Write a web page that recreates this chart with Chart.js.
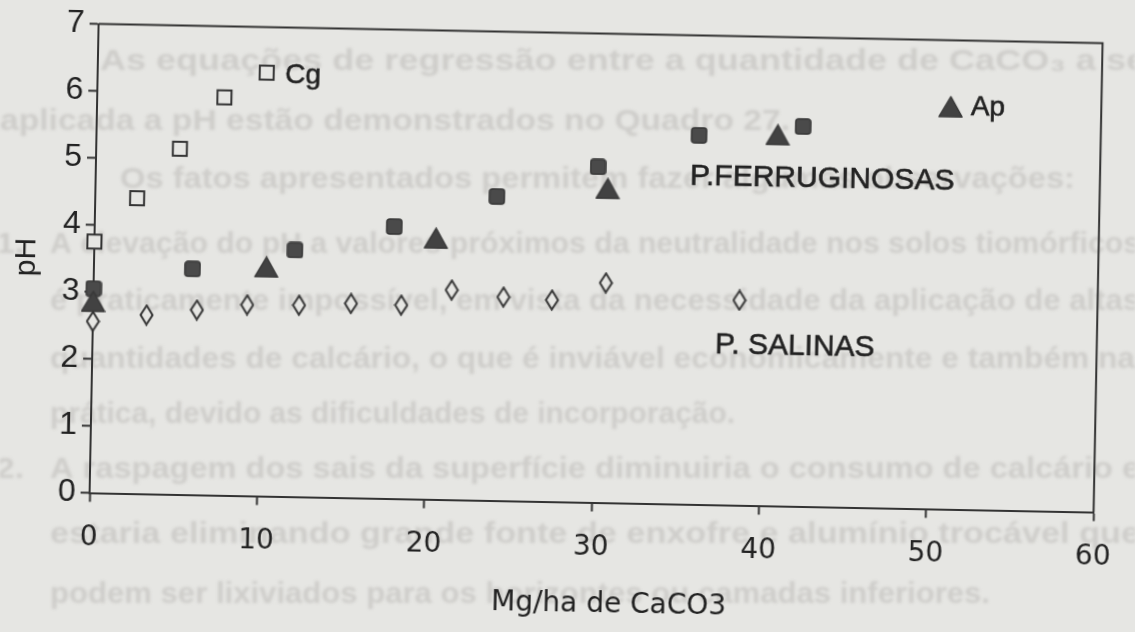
<!DOCTYPE html>
<html>
<head>
<meta charset="utf-8">
<script src="https://cdn.jsdelivr.net/npm/chart.js@4"></script>
<style>
  html, body { margin: 0; padding: 0; background: #e6e6e3; overflow: hidden; }
  #wrap { position: relative; width: 1135px; height: 632px; }
  #page { position: absolute; left: 0; top: 0; filter: blur(1.4px); }
  #ph-chart { position: absolute; left: 0; top: 0; transform: rotate(1.1deg); transform-origin: 596.5px 268px; }
</style>
</head>
<body>
<div id="wrap">
  <canvas id="page" width="1135" height="632"></canvas>
  <canvas id="ph-chart" width="1135" height="632"></canvas>
</div>
<script>
// pH against lime rate, four soil groups
const cgX  = [0, 2.5, 5, 7.6, 10.1];
const cgPH = [3.75, 4.41, 5.16, 5.94, 6.32];

const ferX  = [0, 5.9, 12, 17.9, 24, 30, 36, 42.2];
const ferPH = [3.05, 3.37, 3.68, 4.06, 4.54, 5.01, 5.51, 5.67];

const apX  = [0, 10.3, 20.4, 30.6, 40.7, 51];
const apPH = [2.86, 3.42, 3.9, 4.69, 5.54, 6.01];

const salX  = [0, 3.2, 6.2, 9.2, 12.3, 15.4, 18.4, 21.4, 24.5, 27.4, 30.6, 38.6];
const salPH = [2.56, 2.67, 2.76, 2.85, 2.86, 2.9, 2.89, 3.13, 3.04, 3.01, 3.28, 3.06];

const xTicks = [0, 10, 20, 30, 40, 50, 60];
const yTicks = [0, 1, 2, 3, 4, 5, 6, 7];

const notes = [
  { text: "Cg", x: 11.2, y: 6.28, size: 28 },
  { text: "Ap", x: 52.2, y: 6.01, size: 28 },
  { text: "P.FERRUGINOSAS", x: 35.5, y: 4.89, size: 30 },
  { text: "P. SALINAS", x: 37.2, y: 2.38, size: 30 }
];

// text of the facing page showing through the paper
const pageLines = [
  ["As equações de regressão entre a quantidade de CaCO₃ a ser", 100, 62, 1060],
  ["aplicada a pH estão demonstrados no Quadro 27.", 0, 122, 790],
  ["Os fatos apresentados permitem fazer algumas observações:", 120, 180, 955],
  ["1.", -4, 245, 28],
  ["A elevação do pH a valores próximos da neutralidade nos solos tiomórficos", 50, 245, 1090],
  ["é praticamente impossível, em vista da necessidade da aplicação de altas", 50, 302, 1090],
  ["quantidades de calcário, o que é inviável economicamente e também na", 50, 360, 1085],
  ["prática, devido as dificuldades de incorporação.", 50, 415, 685],
  ["2.", -4, 470, 28],
  ["A raspagem dos sais da superfície diminuiria o consumo de calcário e", 50, 470, 1090],
  ["estaria eliminando grande fonte de enxofre e alumínio trocável que", 50, 535, 1090],
  ["podem ser lixiviados para os horizontes ou camadas inferiores.", 50, 595, 940]
];

const paper = "#e6e6e3";
const ink = "#222222";

const pg = document.getElementById("page").getContext("2d");
pg.fillStyle = "#cecdca";
pg.font = '600 30px "Liberation Sans", Arial, sans-serif';
pg.textBaseline = "middle";
pageLines.forEach(([t, x, y, w]) => {
  const m = pg.measureText(t).width;
  pg.save();
  pg.translate(x, y);
  pg.scale(w / m, 1);
  pg.fillText(t, 0, 0);
  pg.restore();
});

function marker(w, h, draw) {
  const c = document.createElement("canvas");
  c.width = w; c.height = h;
  draw(c.getContext("2d"));
  return c;
}

const openSquare = marker(18, 18, g => {
  g.fillStyle = paper; g.fillRect(2, 2, 14, 14);
  g.lineWidth = 2; g.strokeStyle = "#333"; g.strokeRect(2, 2, 14, 14);
});
const solidSquare = marker(17, 17, g => {
  g.beginPath(); g.roundRect(1, 1, 15, 15, 3);
  g.fillStyle = "#4a4a4a"; g.fill();
  g.lineWidth = 1.5; g.strokeStyle = "#353535"; g.stroke();
});
const solidTriangle = marker(25, 22, g => {
  g.beginPath(); g.moveTo(12.5, 1); g.lineTo(24, 21); g.lineTo(1, 21); g.closePath();
  g.fillStyle = "#424242"; g.fill();
  g.lineJoin = "round"; g.lineWidth = 1.5; g.strokeStyle = "#383838"; g.stroke();
});
const openDiamond = marker(15, 22, g => {
  g.beginPath(); g.moveTo(7.5, 1.5); g.lineTo(13.5, 11); g.lineTo(7.5, 20.5); g.lineTo(1.5, 11); g.closePath();
  g.fillStyle = paper; g.fill();
  g.lineWidth = 2; g.strokeStyle = "#333"; g.stroke();
});

const pts = (xs, ys) => xs.map((x, i) => ({ x: x, y: ys[i] }));

const notesPlugin = {
  id: "notes",
  afterDatasetsDraw(chart) {
    const { ctx, scales: { x, y }, chartArea } = chart;
    ctx.save();
    ctx.fillStyle = ink;
    ctx.strokeStyle = ink;
    ctx.lineWidth = 0.6;
    ctx.textBaseline = "middle";
    ctx.textAlign = "left";
    notes.forEach(n => {
      ctx.font = n.size + 'px "Liberation Sans", Arial, sans-serif';
      const px = x.getPixelForValue(n.x), py = y.getPixelForValue(n.y);
      ctx.fillText(n.text, px, py);
      ctx.strokeText(n.text, px, py);
    });
    // top and right sides of the frame
    ctx.strokeStyle = "#333";
    ctx.lineWidth = 2;
    ctx.beginPath();
    ctx.moveTo(chartArea.left, chartArea.top);
    ctx.lineTo(chartArea.right, chartArea.top);
    ctx.lineTo(chartArea.right, chartArea.bottom);
    ctx.stroke();
    // x axis title
    ctx.textAlign = "center";
    ctx.font = '28px "DejaVu Sans", sans-serif';
    ctx.fillText("Mg/ha de CaCO3", (chartArea.left + chartArea.right) / 2 + 19, chartArea.bottom + 102);
    ctx.restore();
  }
};

new Chart(document.getElementById("ph-chart").getContext("2d"), {
  type: "scatter",
  data: {
    datasets: [
      { label: "Ap", data: pts(apX, apPH), pointStyle: solidTriangle, clip: false },
      { label: "P. ferruginosas", data: pts(ferX, ferPH), pointStyle: solidSquare, clip: false },
      { label: "Cg", data: pts(cgX, cgPH), pointStyle: openSquare, clip: false },
      { label: "P. salinas", data: pts(salX, salPH), pointStyle: openDiamond, clip: false }
    ]
  },
  options: {
    responsive: false,
    animation: false,
    events: [],
    layout: { padding: { top: 33.5, right: 36, left: 0, bottom: 0 } },
    plugins: { legend: { display: false }, tooltip: { enabled: false } },
    scales: {
      x: {
        type: "linear", min: 0, max: 60,
        afterFit: s => { s.height = 129.5; },
        afterBuildTicks: s => { s.ticks = xTicks.map(v => ({ value: v })); },
        border: { display: true, color: "#333", width: 2 },
        grid: { drawOnChartArea: false, drawTicks: true, tickLength: 9, tickColor: "#333", tickWidth: 2 },
        ticks: { color: ink, padding: 19, font: { family: "DejaVu Sans", size: 28 } }
      },
      y: {
        type: "linear", min: 0, max: 7,
        afterFit: s => { s.width = 94; },
        afterBuildTicks: s => { s.ticks = yTicks.map(v => ({ value: v })); },
        border: { display: true, color: "#333", width: 2 },
        grid: { drawOnChartArea: false, drawTicks: true, tickLength: 9, tickColor: "#333", tickWidth: 2 },
        ticks: { color: ink, padding: 5, font: { family: "Liberation Sans", size: 32 } },
        title: { display: true, text: "pH", color: ink, padding: { top: 9, bottom: 0 }, font: { family: "Liberation Sans", size: 30 } }
      }
    }
  },
  plugins: [notesPlugin]
});
</script>
</body>
</html>
